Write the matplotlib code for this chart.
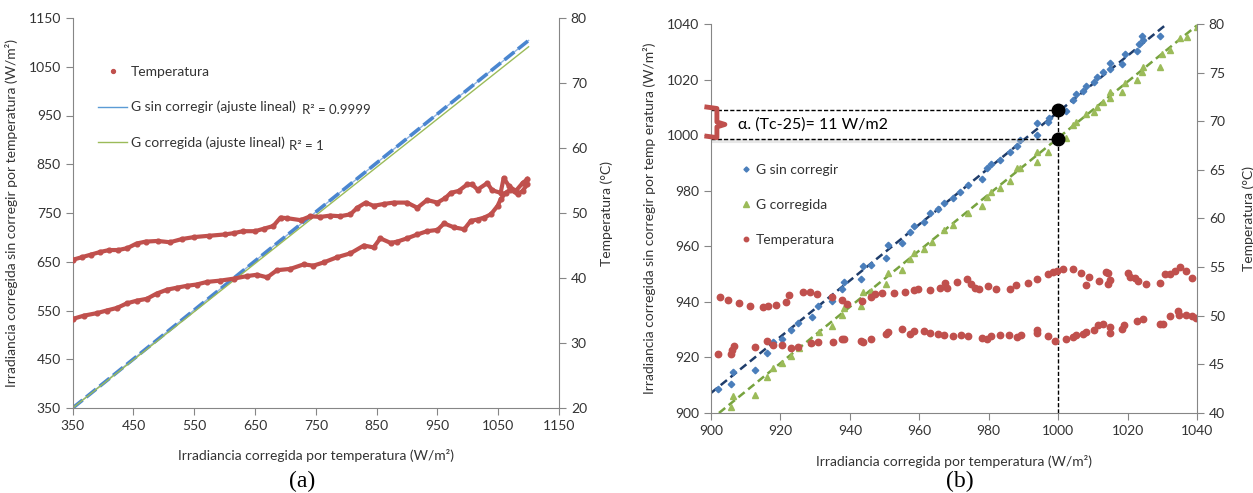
import matplotlib
matplotlib.use('Agg')
import matplotlib.pyplot as plt
from matplotlib.lines import Line2D

plt.rcParams['font.family'] = ['Lato', 'DejaVu Sans']

# ---------------- panel (a) data ----------------
# temperature loop (morning / afternoon branch), x = corrected irradiance, y = degC
temp_up_x = [350, 365, 380, 395, 410, 425, 440, 455, 470, 490, 510, 530, 550, 575, 600, 615,
             630, 650, 665, 680, 692, 703, 725, 741, 757, 774, 790, 807, 818, 832, 845, 862,
             878, 900, 917, 933, 950, 963, 972, 985, 999, 1007, 1016, 1032, 1040, 1054, 1059,
             1068, 1079, 1090, 1098]
temp_up_y = [42.8, 43.2, 43.6, 44.0, 44.3, 44.3, 44.6, 45.3, 45.6, 45.7, 45.5, 46.0, 46.3, 46.5,
             46.7, 46.9, 47.2, 47.2, 47.6, 48.0, 49.3, 49.2, 48.9, 49.5, 49.4, 49.6, 49.5, 49.8,
             50.8, 51.6, 51.1, 51.4, 51.6, 51.6, 50.8, 52.0, 51.6, 52.3, 53.1, 53.4, 54.4, 54.4,
             53.6, 54.6, 53.5, 53.1, 55.4, 54.1, 53.4, 54.6, 55.2]
temp_lo_x = [350, 368, 390, 406, 423, 439, 455, 472, 488, 505, 521, 538, 554, 571, 593, 615,
             637, 653, 670, 686, 708, 730, 746, 763, 785, 807, 829, 845, 856, 873, 884, 900,
             917, 933, 950, 961, 977, 994, 1005, 1016, 1027, 1038, 1049, 1054, 1062, 1070,
             1082, 1090, 1098]
temp_lo_y = [33.7, 34.2, 34.6, 35.0, 35.4, 36.1, 36.5, 36.8, 37.6, 38.2, 38.5, 38.8, 39.0, 39.4,
             39.6, 39.9, 40.3, 40.5, 40.1, 41.2, 41.4, 42.1, 41.9, 42.4, 43.2, 43.8, 45.0, 44.7,
             46.1, 45.4, 45.6, 46.1, 46.7, 47.2, 47.4, 48.4, 47.8, 47.5, 48.8, 49.0, 49.3, 49.8,
             51.1, 52.1, 53.1, 53.6, 52.9, 53.4, 54.4]
# linear fits (end points)
fit_a_x = [350, 1100]
fit_a_sin = [350, 1104]
fit_a_corr = [350, 1091]

# ---------------- panel (b) data ----------------
g_sin_x = [902.1, 905.8, 906.4, 912.7, 916.2, 917.8, 920.5, 923.0, 925.1, 929.0, 930.9, 934.8,
           937.6, 938.4, 943.2, 943.9, 946.0, 950.4, 950.9, 955.1, 957.3, 958.6, 961.5, 963.2,
           965.5, 967.0, 969.8, 971.7, 974.1, 978.0, 979.4, 980.8, 983.2, 986.0, 988.1, 989.0,
           993.8, 994.0, 997.2, 997.5, 1002.3, 1004.4, 1005.2, 1007.3, 1008.1, 1010.2, 1011.2,
           1012.9, 1015.0, 1015.0, 1018.3, 1019.3, 1022.7, 1023.2, 1024.2, 1024.5, 1029.3]
g_sin_y = [908.5, 910.4, 914.9, 915.5, 921.7, 925.4, 926.6, 929.9, 932.3, 934.4, 938.5, 940.4,
           944.5, 947.3, 948.1, 952.9, 953.4, 955.8, 960.5, 961.1, 965.3, 967.4, 968.9, 971.9,
           973.4, 975.7, 977.3, 979.7, 982.1, 984.2, 988.1, 989.5, 991.1, 993.8, 996.2, 998.3,
           1000.1, 1004.5, 1004.7, 1006.1, 1008.8, 1012.7, 1014.7, 1015.9, 1017.8, 1019.3, 1020.8,
           1022.6, 1023.8, 1026.1, 1025.6, 1029.2, 1030.3, 1032.7, 1035.8, 1034.3, 1035.7]
g_corr_x = [905.8, 906.4, 912.7, 916.2, 917.9, 920.5, 923.0, 925.4, 928.8, 931.1, 934.8, 937.6,
            938.4, 943.2, 943.9, 946.0, 950.4, 950.9, 955.1, 957.3, 958.6, 961.5, 963.6, 967.0,
            969.8, 974.1, 978.0, 979.4, 980.8, 983.2, 986.0, 988.1, 989.0, 994.0, 994.0, 997.2,
            1002.3, 1004.4, 1005.2, 1008.1, 1010.2, 1011.2, 1012.9, 1015.0, 1015.0, 1018.3,
            1019.3, 1022.7, 1024.2, 1024.5, 1029.3, 1029.9, 1032.1, 1035.2, 1037.1, 1040.0]
g_corr_y = [902.3, 906.2, 906.5, 912.8, 916.1, 917.9, 920.6, 923.3, 925.7, 929.0, 931.3, 935.3,
            937.9, 938.6, 943.4, 943.9, 946.4, 950.5, 951.5, 955.3, 957.5, 958.9, 961.7, 965.9,
            967.7, 971.9, 974.6, 977.9, 979.7, 981.1, 983.6, 988.3, 988.1, 993.8, 990.5, 994.1,
            998.9, 1003.7, 1004.6, 1007.5, 1008.2, 1010.2, 1011.8, 1013.2, 1015.4, 1015.4,
            1018.6, 1019.8, 1022.8, 1024.6, 1024.6, 1029.1, 1030.7, 1034.9, 1035.5, 1039.1]
t_up_x = [902.6, 904.8, 908.1, 911.2, 914.9, 916.3, 918.6, 921.5, 922.6, 926.4, 928.5, 930.6,
          934.8, 937.6, 939.3, 943.4, 946.1, 947.3, 949.2, 952.6, 955.9, 958.6, 959.7, 963.2,
          966.0, 967.4, 968.0, 970.8, 973.7, 974.8, 976.0, 977.3, 979.9, 982.1, 986.0, 987.8,
          991.4, 993.8, 997.0, 998.6, 999.6, 1001.5, 1004.4, 1006.5, 1008.1, 1009.0, 1011.9,
          1013.8, 1014.4, 1014.4, 1015.0, 1020.1, 1020.6, 1022.2, 1022.9, 1025.4, 1029.2,
          1030.9, 1032.1, 1033.6, 1035.2, 1036.7, 1038.5]
t_up_y = [51.9, 51.6, 51.3, 51.0, 50.9, 51.0, 51.1, 51.4, 52.1, 52.4, 52.4, 52.2, 51.9, 51.6,
          51.2, 51.5, 51.9, 52.2, 52.3, 52.3, 52.4, 52.6, 52.8, 52.6, 52.9, 53.4, 52.9, 53.5,
          53.8, 53.3, 52.9, 52.8, 53.1, 52.8, 52.7, 53.2, 53.4, 53.8, 54.3, 54.5, 54.6, 54.8,
          54.8, 54.4, 53.2, 54.0, 53.6, 54.5, 54.4, 53.3, 53.7, 54.4, 54.0, 53.9, 53.6, 53.3,
          53.4, 54.3, 54.3, 54.6, 55.0, 54.6, 53.9]
t_lo_x = [902.1, 905.7, 906.1, 906.5, 912.7, 916.2, 917.8, 920.5, 923.0, 925.1, 928.8, 930.9,
          935.0, 937.6, 938.4, 943.2, 943.9, 946.0, 950.4, 950.9, 955.1, 957.3, 958.6, 961.5,
          963.2, 965.5, 967.0, 969.8, 971.9, 973.9, 978.0, 979.4, 980.8, 983.2, 985.8, 988.1,
          989.3, 993.8, 994.0, 997.2, 999.2, 1002.3, 1004.2, 1005.2, 1007.3, 1008.1, 1010.2,
          1011.4, 1012.9, 1015.0, 1015.0, 1018.3, 1019.0, 1022.6, 1024.4, 1029.2, 1030.3,
          1032.1, 1034.4, 1034.9, 1036.8, 1038.5, 1039.7]
t_lo_y = [46.1, 46.1, 46.5, 46.9, 46.8, 47.4, 47.0, 47.0, 46.7, 46.8, 47.2, 47.3, 47.3, 47.6,
          47.6, 47.4, 47.3, 47.6, 48.1, 48.3, 48.6, 48.1, 48.4, 48.4, 48.2, 48.1, 48.0, 47.9,
          48.0, 47.9, 47.7, 47.6, 47.9, 48.0, 48.0, 47.8, 48.0, 48.5, 48.2, 47.9, 47.4, 47.6,
          47.8, 48.0, 48.1, 48.3, 48.5, 49.0, 49.2, 48.8, 48.2, 48.6, 49.0, 49.5, 49.7, 49.2,
          49.2, 50.0, 50.5, 50.1, 50.1, 50.0, 49.8]
fit_b_sin_x = [900, 1031.3]
fit_b_sin_y = [907.2, 1040]
fit_b_corr_x = [902.3, 1040]
fit_b_corr_y = [900, 1039.5]
g_ref = 1000          # reference irradiance
g_sin_ref = 1009.0    # uncorrected value at 1000
g_corr_ref = 998.7    # corrected value at 1000

RED = '#c0504d'
BLUE = '#4a7ebb'
GREEN = '#9bbb59'
GRAY = '#868686'
TXT = '#333333'
FS = 10


def style(ax, tw):
    for a in (ax, tw):
        for s in a.spines.values():
            s.set_color(GRAY)
        a.spines['top'].set_visible(False)
        a.tick_params(colors=GRAY, labelcolor=TXT, labelsize=FS, length=5, width=0.8)
    ax.spines['right'].set_visible(False)
    tw.spines['left'].set_visible(False)
    tw.spines['bottom'].set_visible(False)


fig = plt.figure(figsize=(12.53, 4.93), dpi=100)
W, H = 1253, 493

# ---------------- (a) ----------------
ax1 = fig.add_axes([72.7 / W, 1 - 408 / H, 486.3 / W, 390 / H])
ax1t = ax1.twinx()
ax1.plot(fit_a_x, fit_a_sin, color='#8db3e2', lw=1)
ax1.plot(fit_a_x, fit_a_sin, color='#4a86d0', lw=2.6, dashes=(3.5, 1.3))
ax1.plot(fit_a_x, fit_a_corr, color=GREEN, lw=1)
for xs, ys in ((temp_up_x, temp_up_y), (temp_lo_x, temp_lo_y)):
    ax1t.plot(xs, ys, color=RED, lw=3.0, marker='o', ms=3.4, solid_joinstyle='round')
ax1.set_xlim(350, 1150)
ax1.set_ylim(350, 1150)
ax1.set_xticks(range(350, 1151, 100))
ax1.set_yticks(range(350, 1151, 100))
ax1t.set_ylim(20, 80)
ax1t.set_yticks(range(20, 81, 10))
style(ax1, ax1t)
ax1.set_xlabel('Irradiancia corregida por temperatura (W/m²)', fontsize=FS, color=TXT)
ax1.xaxis.set_label_coords(0.5, -0.105)
ax1.set_ylabel('Irradiancia corregida sin corregir por temperatura (W/m²)', fontsize=FS, color=TXT)
ax1.yaxis.set_label_coords(-0.112, 0.5)
ax1t.set_ylabel('Temperatura (°C)', fontsize=FS, color=TXT)
ax1t.yaxis.set_label_coords(1.086, 0.5)

h1 = [Line2D([], [], ls='none', marker='o', ms=2.8, color=RED),
      Line2D([], [], color='#5b9bd5', lw=1),
      Line2D([], [], color=GREEN, lw=1)]
ax1.legend(h1, ['Temperatura', 'G sin corregir (ajuste lineal)', 'G corregida (ajuste lineal)'],
           loc='upper left', bbox_to_anchor=((98 - 72.7) / 486.3, (408 - 66) / 390),
           frameon=False, fontsize=10, handlelength=2.1, handletextpad=0.25,
           labelspacing=1.65, borderpad=0, borderaxespad=0, labelcolor=TXT)
fig.text(302 / W, 1 - 110 / H, 'R² = 0.9999', fontsize=9.5, color=TXT, va='center')
fig.text(289 / W, 1 - 146 / H, 'R² = 1', fontsize=9.5, color=TXT, va='center')

# ---------------- (b) ----------------
ax2 = fig.add_axes([711 / W, 1 - 413 / H, 486 / W, 389 / H])
ax2t = ax2.twinx()
ax2.plot(fit_b_sin_x, fit_b_sin_y, color='#1f3d6b', lw=1.8, dashes=(3.2, 1.8))
ax2.plot(fit_b_corr_x, fit_b_corr_y, color='#77a33f', lw=1.8, dashes=(3.2, 1.8))
ax2.plot(g_sin_x, g_sin_y, ls='none', marker='D', ms=3.3, color=BLUE)
ax2.plot(g_corr_x, g_corr_y, ls='none', marker='^', ms=4.8, color=GREEN)
ax2t.plot(t_up_x + t_lo_x, t_up_y + t_lo_y, ls='none', marker='o', ms=4.6, color=RED)

# reference lines at G = 1000
ax2.plot([900, g_ref], [g_corr_ref - 0.7, g_corr_ref - 0.7], color='#bbbbbb', lw=3, alpha=0.35,
         solid_capstyle='butt')
ax2.plot([900, g_ref], [g_sin_ref, g_sin_ref], color='black', lw=1, dashes=(3, 1.5))
ax2.plot([900, g_ref], [g_corr_ref, g_corr_ref], color='black', lw=1, dashes=(3, 1.5))
ax2.plot([g_ref, g_ref], [900, g_sin_ref], color='black', lw=1, dashes=(3, 1.5))
ax2.plot([g_ref, g_ref], [g_sin_ref, g_corr_ref], ls='none', marker='o', ms=9, color='black',
         zorder=5)
# red brace on the y axis
mid = (g_sin_ref + g_corr_ref) / 2
bx = [898.8, 901.7, 901.7, 904.0, 901.7, 901.7, 898.8]
by = [g_sin_ref + 1.1, g_sin_ref + 0.6, mid + 0.9, mid, mid - 0.9, g_corr_ref + 0.4, g_corr_ref + 0.9]
ax2.plot(bx, by, color=RED, lw=3.5, clip_on=False, solid_joinstyle='round', zorder=6)
ax2.text(g_ref - 92.3, mid, 'α. (Tc-25)= 11 W/m2', fontsize=11.5, color='black', va='center')

ax2.set_xlim(900, 1040)
ax2.set_ylim(900, 1040)
ax2.set_xticks(range(900, 1041, 20))
ax2.set_yticks(range(900, 1041, 20))
ax2t.set_ylim(40, 80)
ax2t.set_yticks(range(40, 81, 5))
style(ax2, ax2t)
ax2.set_xlabel('Irradiancia corregida por temperatura (W/m²)', fontsize=FS, color=TXT)
ax2.xaxis.set_label_coords(0.5, -0.108)
ax2.set_ylabel('Irradiancia corregida sin corregir por temp eratura (W/m²)', fontsize=FS, color=TXT)
ax2.yaxis.set_label_coords(-0.113, 0.5)
ax2t.set_ylabel('Temperatura (°C)', fontsize=FS, color=TXT)
ax2t.yaxis.set_label_coords(1.093, 0.5)

h2 = [Line2D([], [], ls='none', marker='D', ms=2.6, color=BLUE),
      Line2D([], [], ls='none', marker='^', ms=3.8, color=GREEN),
      Line2D([], [], ls='none', marker='o', ms=3.2, color=RED)]
ax2.legend(h2, ['G sin corregir', 'G corregida', 'Temperatura'], loc='upper left',
           bbox_to_anchor=((740 - 711) / 486, (413 - 164) / 389), frameon=False, fontsize=10,
           handlelength=0.9, handletextpad=0.25, labelspacing=1.65, borderpad=0,
           borderaxespad=0, labelcolor=TXT)

fig.text(302 / W, 1 - 481 / H, '(a)', fontsize=17, family='Liberation Serif', ha='center',
         va='center')
fig.text(960 / W, 1 - 481 / H, '(b)', fontsize=17, family='Liberation Serif', ha='center',
         va='center')

fig.savefig('out.png', dpi=100)
